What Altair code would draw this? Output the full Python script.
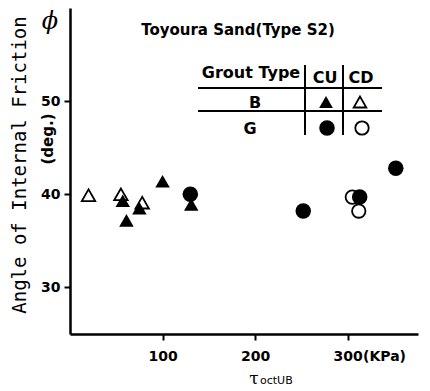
import altair as alt
import pandas as pd

# Data
bcd_x = [20, 55, 78]
bcd_y = [39.9, 40.0, 39.1]
bcu_x = [57, 61, 75, 100, 131]
bcu_y = [39.3, 37.2, 38.5, 41.4, 38.9]
gcu_x = [130, 252, 313, 352]
gcu_y = [40.0, 38.2, 39.7, 42.8]
gcd_x = [305, 312]
gcd_y = [39.7, 38.2]

x_ticks = [100, 200, 300]
y_ticks = [30, 40, 50]

BOLD = "DejaVu Sans"

xs = alt.Scale(domain=[0, 376], nice=False, zero=False)
ys = alt.Scale(domain=[25, 60], nice=False, zero=False)


def series(xv, yv, shape, filled, size):
    df = pd.DataFrame({"x": xv, "y": yv})
    if filled:
        mk = dict(shape=shape, filled=True, size=size, opacity=1,
                  color="black")
    else:
        mk = dict(shape=shape, filled=False, size=size, opacity=1,
                  stroke="black", fill="white", strokeWidth=1.8)
    return alt.Chart(df).mark_point(**mk).encode(
        x=alt.X("x:Q", scale=xs,
                axis=alt.Axis(values=x_ticks, title=None, format="d")),
        y=alt.Y("y:Q", scale=ys,
                axis=alt.Axis(values=y_ticks, title=None, format="d")),
    )


base = alt.Chart(pd.DataFrame({"a": [0]}))


def text(t, x, y, size=15, font=BOLD, weight="bold", angle=0,
         align="center", style="normal"):
    return base.mark_text(
        text=t, font=font, fontSize=size, fontWeight=weight, angle=angle,
        align=align, baseline="middle", color="black", fontStyle=style,
    ).encode(x=alt.value(x), y=alt.value(y))


def hline(x1, x2, y, w=2):
    return base.mark_rule(color="black", strokeWidth=w).encode(
        x=alt.value(x1), x2=alt.value(x2), y=alt.value(y))


def vline(x, y1, y2, w=2):
    return base.mark_rule(color="black", strokeWidth=w).encode(
        x=alt.value(x), y=alt.value(y1), y2=alt.value(y2))


def sym(x, y, shape, filled, size):
    if filled:
        return base.mark_point(shape=shape, filled=True, size=size,
                               color="black", opacity=1).encode(
            x=alt.value(x), y=alt.value(y))
    return base.mark_point(shape=shape, filled=False, size=size,
                           stroke="black", fill="white", strokeWidth=1.8,
                           opacity=1).encode(x=alt.value(x), y=alt.value(y))


layers = [
    series(bcd_x, bcd_y, "triangle-up", False, 180),
    series(gcd_x, gcd_y, "circle", False, 180),
    series(bcu_x, bcu_y, "triangle-up", True, 210),
    series(gcu_x, gcu_y, "circle", True, 240),
    # title
    text("Toyoura Sand(Type S2)", 168, 22, size=15),
    # legend table
    text("Grout Type", 181, 65, size=16),
    text("CU", 255, 70, size=16),
    text("CD", 291, 70, size=16),
    text("B", 185, 95, size=16),
    text("G", 180, 121, size=16),
    hline(128, 312, 80),
    hline(128, 312, 103),
    vline(235, 57, 127),
    vline(273, 57, 127),
    sym(256, 94, "triangle-up", True, 190),
    sym(290, 94, "triangle-up", False, 160),
    sym(257, 120, "circle", True, 240),
    sym(292, 120, "circle", False, 180),
    # axis annotations
    text("Angle of Internal Friction", -50, 157, size=19,
         font="DejaVu Sans Mono", weight="normal", angle=270),
    text("(deg.)", -22, 131, size=15, angle=270),
    text("ϕ", -20, 14, size=24, font="DejaVu Serif", weight="normal",
         style="italic"),
    text("(KPa)", 293, 349, size=14, align="left"),
    text("τ", 184, 371, size=17, font="DejaVu Serif", weight="normal"),
    text("octUB", 190, 373, size=11, font=BOLD, weight="normal",
         align="left"),
]

chart = alt.layer(*layers).properties(
    width=348, height=326,
    autosize=alt.AutoSizeParams(type="none"),
    padding={"left": 70, "top": 8, "right": 12, "bottom": 57},
).configure_view(stroke=None).configure_axis(
    grid=False,
    domainColor="black", domainWidth=2.5,
    tickColor="black", tickWidth=2, tickSize=6,
    labelFont=BOLD, labelFontWeight="bold", labelFontSize=14,
    labelColor="black", labelPadding=4,
).configure_axisX(labelPadding=9)

chart.save("out.html", embed_options={"renderer": "svg", "actions": False})
